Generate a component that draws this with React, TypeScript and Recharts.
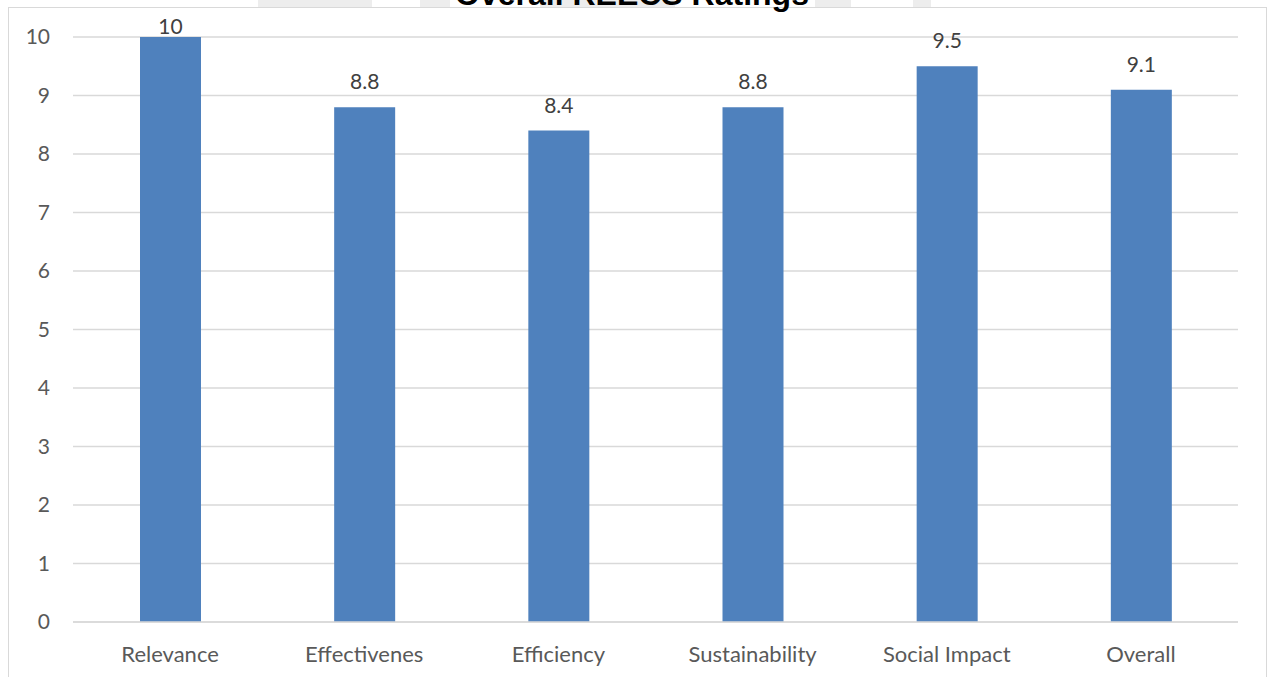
import React from 'react';
import { BarChart, Bar, XAxis, YAxis, CartesianGrid, LabelList } from 'recharts';

const categories = ['Relevance', 'Effectivenes', 'Efficiency', 'Sustainability', 'Social Impact', 'Overall'];
const ratings = [10, 8.8, 8.4, 8.8, 9.5, 9.1];
const yTicks = [0, 1, 2, 3, 4, 5, 6, 7, 8, 9, 10];

const data = categories.map((name, i) => ({ name, rating: ratings[i] }));

const font = 'Lato, "Open Sans", sans-serif';

// Excel pushes the top label down so it stays inside the plot area
const renderValueLabel = (props: any) => {
  const { x, y, width, value } = props;
  const ty = Math.max(y - 18, 34);
  return (
    <text x={x + width / 2} y={ty} textAnchor="middle" fill="#404040" fontSize={21} fontFamily={font}>
      {value}
    </text>
  );
};

const greyPatches = [
  [258, 114],
  [420, 30],
  [540, 135],
  [815, 36],
  [913, 18],
];

const App: React.FC = () => {
  return (
    <div style={{ position: 'fixed', top: 0, left: 0, width: 1268, height: 677, background: '#fff', overflow: 'hidden' }}>
      {greyPatches.map(([x, w], i) => (
        <div key={i} style={{ position: 'absolute', top: 0, left: x, width: w, height: 7, background: '#ededed' }} />
      ))}
      <div
        style={{
          position: 'absolute',
          top: 7,
          left: 8,
          width: 1257,
          height: 680,
          borderTop: '1px solid #d9d9d9',
          borderLeft: '1px solid #d9d9d9',
          borderRight: '1px solid #d9d9d9',
        }}
      />
      <div
        style={{
          position: 'absolute',
          top: -23,
          left: 0,
          width: 1264,
          textAlign: 'center',
          fontFamily: '"Liberation Sans", Arial, sans-serif',
          fontWeight: 'bold',
          fontSize: 32,
          color: '#000',
          lineHeight: '34px',
        }}
      >
        Overall REECS Ratings
      </div>
      <div style={{ position: 'absolute', top: 0, left: 0 }}>
        <BarChart width={1268} height={677} data={data} margin={{ top: 37, right: 30, bottom: 15, left: 13 }}>
          <CartesianGrid vertical={false} stroke="#d9d9d9" strokeWidth={1.5} />
          <XAxis
            dataKey="name"
            height={40}
            tickLine={false}
            tickSize={0}
            tickMargin={24}
            axisLine={{ stroke: '#d9d9d9', strokeWidth: 1.5 }}
            tick={{ fill: '#595959', fontSize: 22, fontFamily: font }}
            interval={0}
          />
          <YAxis
            width={60}
            domain={[0, 10]}
            ticks={yTicks}
            axisLine={false}
            tickLine={false}
            tickSize={0}
            tickMargin={23}
            tick={{ fill: '#595959', fontSize: 21, fontFamily: font }}
          />
          <Bar dataKey="rating" fill="#4f81bd" barSize={61} isAnimationActive={false}>
            <LabelList dataKey="rating" content={renderValueLabel} />
          </Bar>
        </BarChart>
      </div>
    </div>
  );
};

export default App;
